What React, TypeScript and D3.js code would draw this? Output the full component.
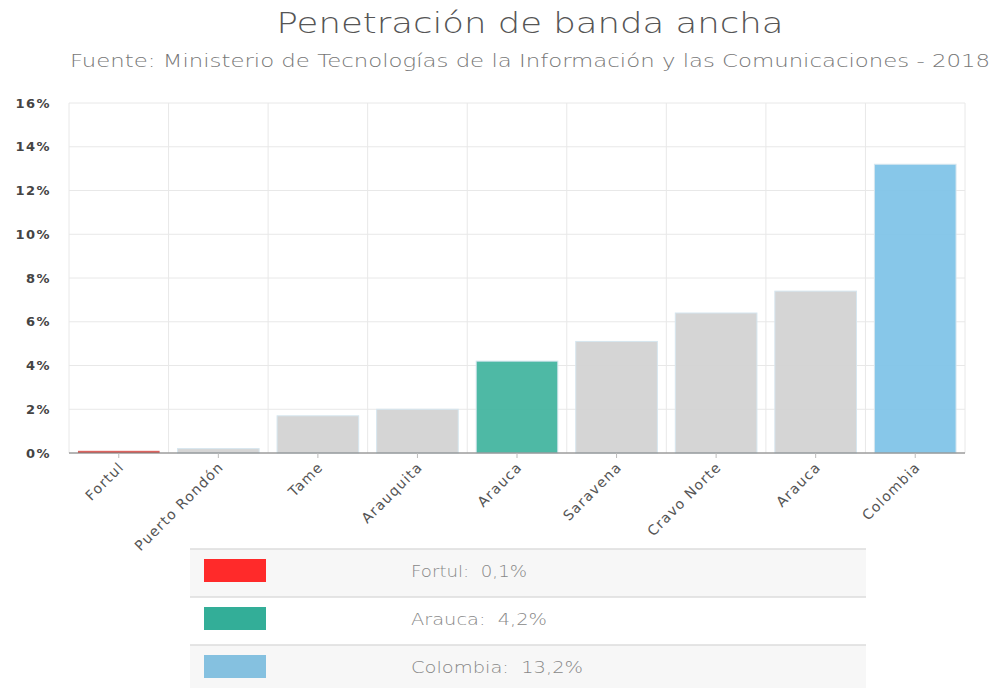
import React from "react";
import * as d3 from "d3";

const categories = ["Fortul", "Puerto Rondón", "Tame", "Arauquita", "Arauca", "Saravena", "Cravo Norte", "Arauca", "Colombia"];
const values = [0.1, 0.2, 1.7, 2.0, 4.2, 5.1, 6.4, 7.4, 13.2];
const yTicks = [0, 2, 4, 6, 8, 10, 12, 14, 16];
const legendLabels = ["Fortul:  0,1%", "Arauca:  4,2%", "Colombia:  13,2%"];

const barFill = ["#d9534f", "#d3d3d3", "#d3d3d3", "#d3d3d3", "#45b5a0", "#d3d3d3", "#d3d3d3", "#d3d3d3", "#81c4e8"];
const legendFill = ["#ff2a2a", "#33ae98", "#85c1e0"];

const W = 995, H = 688;
const M = { left: 69, right: 965, top: 103, bottom: 453 };

export default function App() {
  const x = d3.scaleBand<number>().domain(d3.range(categories.length)).range([M.left, M.right]).paddingInner(0.18).paddingOuter(0.09);
  const y = d3.scaleLinear().domain([0, 16]).range([M.bottom, M.top]);
  const boundaries = d3.range(categories.length + 1).map(i => M.left + i * ((M.right - M.left) / categories.length));
  const thin = "'DejaVu Sans', sans-serif";
  const axisFont = "'DejaVu Sans', Verdana, sans-serif";
  const rowTop = [549, 597, 645];
  const rowH = 48;
  const legendLen = [116, 136, 172];
  return (
    <svg width={W} height={H} style={{ position: "absolute", left: 0, top: 0, background: "#fff" }}>
      <text x={530} y={33} textAnchor="middle" fontFamily={thin} fontWeight={200} fontSize={28} fill="#555" textLength={507} lengthAdjust="spacingAndGlyphs">Penetración de banda ancha</text>
      <text x={530} y={67} textAnchor="middle" fontFamily={thin} fontWeight={200} fontSize={18} fill="#777" textLength={920} lengthAdjust="spacingAndGlyphs">Fuente: Ministerio de Tecnologías de la Información y las Comunicaciones - 2018</text>
      {yTicks.map(t => (
        <g key={t}>
          <line x1={M.left} x2={M.right} y1={y(t)} y2={y(t)} stroke="#e8e8e8" strokeWidth={1} />
          <text x={51} y={y(t)} dy="0.35em" textAnchor="end" fontFamily={axisFont} fontSize={13} fontWeight={700} fill="#444" letterSpacing={1.5}>{t}%</text>
        </g>
      ))}
      {boundaries.map((b, i) => (
        <line key={i} x1={b} x2={b} y1={M.top} y2={M.bottom} stroke="#e8e8e8" strokeWidth={1} />
      ))}
      {values.map((v, i) => (
        <rect key={i} x={x(i)} y={y(v)} width={x.bandwidth()} height={M.bottom - y(v)} fill={barFill[i]} fillOpacity={i === 0 ? 0.9 : 0.95} stroke={i === 0 ? "none" : "#d6e6ef"} strokeWidth={1} />
      ))}
      <line x1={M.left} x2={M.right} y1={M.bottom} y2={M.bottom} stroke="#777" strokeWidth={1} />
      {categories.map((c, i) => {
        const cx = (x(i) as number) + x.bandwidth() / 2;
        return (
          <g key={i}>
            <line x1={cx} x2={cx} y1={M.bottom} y2={M.bottom + 5} stroke="#bbb" />
            <text transform={`translate(${cx + 6},${M.bottom + 15}) rotate(-45)`} textAnchor="end" fontFamily={axisFont} fontSize={14} fill="#555" letterSpacing={1.2}>{c}</text>
          </g>
        );
      })}
      {legendLabels.map((l, i) => (
        <g key={i}>
          <rect x={190} y={rowTop[i]} width={676} height={rowH} fill={i === 1 ? "#fff" : "#f7f7f7"} />
          <line x1={190} x2={866} y1={rowTop[i]} y2={rowTop[i]} stroke="#ddd" strokeWidth={1.5} />
          <rect x={204} y={rowTop[i] + 10} width={62} height={23} fill={legendFill[i]} />
          <text x={411} y={rowTop[i] + 22} dy="0.35em" fontFamily={thin} fontWeight={200} fontSize={16} fill="#888" textLength={legendLen[i]} lengthAdjust="spacingAndGlyphs" style={{ whiteSpace: "pre" }}>{l}</text>
        </g>
      ))}
    </svg>
  );
}
